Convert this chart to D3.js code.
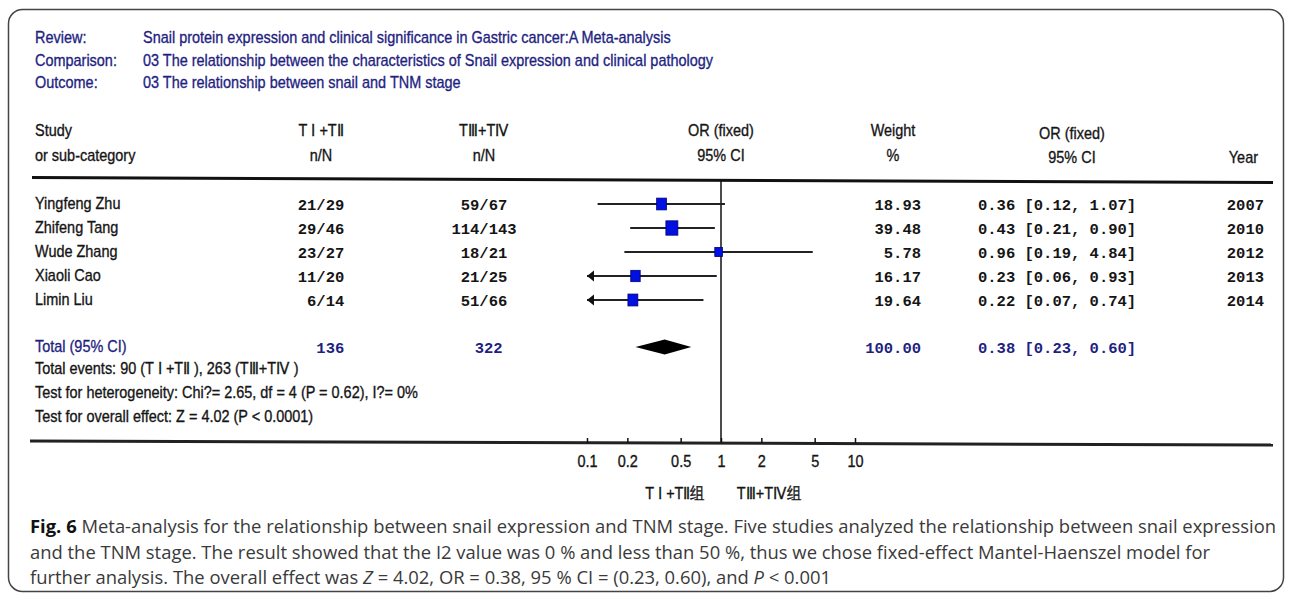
<!DOCTYPE html>
<html>
<head>
<meta charset="utf-8">
<script src="https://cdn.jsdelivr.net/npm/d3@7"></script>
<style>
  html, body { margin: 0; padding: 0; background: #fff; }
  svg { display: block; }
  .narrow { font-family: 'Liberation Sans', Arial, sans-serif; font-size: 17px; }
  .mono { font-family: 'Liberation Mono', 'Courier New', monospace; font-weight: bold; white-space: pre; font-size: 15.5px; }
  .cap { font-family: 'Open Sans', sans-serif; }
</style>
</head>
<body>
<svg id="chart" width="1292" height="601"></svg>
<script>
// ---- Data ----
const headerLabels = ["Review:", "Comparison:", "Outcome:"];
const headerValues = [
  "Snail protein expression and clinical significance in Gastric cancer:A Meta-analysis",
  "03 The relationship between the characteristics of Snail expression and clinical pathology",
  "03 The relationship between snail and TNM stage"
];
const studies   = ["Yingfeng Zhu", "Zhifeng Tang", "Wude Zhang", "Xiaoli Cao", "Limin Liu"];
const eventsLow = [21, 29, 23, 11, 6];
const totalLow  = [29, 46, 27, 20, 14];
const eventsHigh = [59, 114, 18, 21, 51];
const totalHigh  = [67, 143, 21, 25, 66];
const weights   = [18.93, 39.48, 5.78, 16.17, 19.64];
const oddsRatio = [0.36, 0.43, 0.96, 0.23, 0.22];
const ciLower   = [0.12, 0.21, 0.19, 0.06, 0.07];
const ciUpper   = [1.07, 0.90, 4.84, 0.93, 0.74];
const years     = [2007, 2010, 2012, 2013, 2014];
const pooled    = [0.38, 0.23, 0.60];   // OR, lower, upper
const pooledWeight = 100.00;
const pooledTotals = [136, 322];
const axisTicks = [0.1, 0.2, 0.5, 1, 2, 5, 10];
const groupLow  = "T Ⅰ +TⅡ";
const groupHigh = "TⅢ+TⅣ";
const footLines = [
  "Total events: 90 (" + groupLow + " ), 263 (" + groupHigh + " )",
  "Test for heterogeneity: Chi?= 2.65, df = 4 (P = 0.62), I?= 0%",
  "Test for overall effect: Z = 4.02 (P < 0.0001)"
];
const captionLines = [
  [["Fig. 6", "b"], [" Meta-analysis for the relationship between snail expression and TNM stage. Five studies analyzed the relationship between snail expression", ""]],
  [["and the TNM stage. The result showed that the I2 value was 0 % and less than 50 %, thus we chose fixed-effect Mantel-Haenszel model for", ""]],
  [["further analysis. The overall effect was ", ""], ["Z", "i"], [" = 4.02, OR = 0.38, 95 % CI = (0.23, 0.60), and ", ""], ["P", "i"], [" < 0.001", ""]]
];

// ---- Helpers ----
// narrow the glyphs of a selection of texts by a constant factor
function condense(sel, k) {
  sel.each(function () {
    const len = this.getComputedTextLength();
    d3.select(this).attr("textLength", len * k).attr("lengthAdjust", "spacingAndGlyphs");
  });
  return sel;
}
const NARROW = 0.85;

// ---- Setup ----
const svg = d3.select("#chart");
const navy = "#1f1f82";
const ink = "#151515";

// rounded frame
svg.append("rect")
  .attr("x", 8.5).attr("y", 9.5).attr("width", 1275).attr("height", 582)
  .attr("rx", 14).attr("fill", "none").attr("stroke", "#444").attr("stroke-width", 1.5);

// scales
const x = d3.scaleLog().domain([0.1, 10]).range([587, 855]);
const y = d3.scaleLinear().domain([0, studies.length - 1]).range([204, 300]);
const totalY = 347;
const size = d3.scaleSqrt().domain([0, 40]).range([5, 12]);

function narrowText(g, t, px, py, anchor, color) {
  return g.append("text").attr("class", "narrow")
    .attr("x", px).attr("y", py).attr("text-anchor", anchor || "start")
    .attr("fill", color || ink).attr("stroke", color || ink).attr("stroke-width", 0.35)
    .text(t);
}

// ---- Review header ----
const hdr = svg.append("g");
headerLabels.forEach((t, i) => {
  narrowText(hdr, t, 35, 43 + i * 22.5, "start", navy);
  narrowText(hdr, headerValues[i], 143, 43 + i * 22.5, "start", navy);
});

// ---- Column headings ----
const colLow = 321, colHigh = 484, colWeight = 921, colCI = 978, colYear = 1264;
const heads = [
  { t: "Study", x: 35, y: 136, a: "start" },
  { t: "or sub-category", x: 35, y: 161, a: "start" },
  { t: groupLow, x: colLow, y: 136, a: "middle" },
  { t: "n/N", x: colLow, y: 161, a: "middle" },
  { t: groupHigh, x: colHigh, y: 136, a: "middle" },
  { t: "n/N", x: colHigh, y: 161, a: "middle" },
  { t: "OR (fixed)", x: x(1), y: 136, a: "middle" },
  { t: "95% CI", x: x(1), y: 161, a: "middle" },
  { t: "Weight", x: 893, y: 136, a: "middle" },
  { t: "%", x: 893, y: 161, a: "middle" },
  { t: "OR (fixed)", x: 1072, y: 139, a: "middle" },
  { t: "95% CI", x: 1072, y: 163, a: "middle" },
  { t: "Year", x: 1258, y: 163, a: "end" }
];
const headG = svg.append("g");
heads.forEach(d => narrowText(headG, d.t, d.x, d.y, d.a));

// header rule
svg.append("line").attr("x1", 32).attr("y1", 177.5).attr("x2", 1273).attr("y2", 182.5)
  .attr("stroke", "#111").attr("stroke-width", 3);

// line of no effect
svg.append("line").attr("x1", x(1)).attr("x2", x(1)).attr("y1", 181).attr("y2", 443)
  .attr("stroke", "#111").attr("stroke-width", 1.5);

// ---- Study rows ----
const rows = svg.append("g");
studies.forEach((s, i) => {
  const yy = y(i);
  narrowText(rows, s, 35, yy + 5);
  const mono = (t, px, anchor) => rows.append("text").attr("class", "mono").attr("fill", ink)
    .attr("x", px).attr("y", yy + 6).attr("text-anchor", anchor).text(t);
  mono((eventsLow[i] + "/" + totalLow[i]).padStart(5, " "), colLow, "middle");
  mono((eventsHigh[i] + "/" + totalHigh[i]).padStart(5, " "), colHigh, "middle");
  mono(weights[i].toFixed(2), colWeight, "end");
  mono(oddsRatio[i].toFixed(2) + " [" + ciLower[i].toFixed(2) + ", " + ciUpper[i].toFixed(2) + "]", colCI, "start");
  mono(String(years[i]), colYear, "end");

  // confidence interval, clipped at the axis minimum with an arrow
  const lo = Math.max(ciLower[i], x.domain()[0]);
  const hi = Math.min(ciUpper[i], x.domain()[1]);
  rows.append("line").attr("x1", x(lo)).attr("x2", x(hi)).attr("y1", yy).attr("y2", yy)
    .attr("stroke", "#222").attr("stroke-width", 2);
  if (ciLower[i] < x.domain()[0]) {
    const ax = x(x.domain()[0]);
    rows.append("path")
      .attr("d", `M${ax},${yy} L${ax + 7},${yy - 5.5} L${ax + 7},${yy + 5.5} Z`)
      .attr("fill", "#111");
  }
  const sz = size(weights[i]);
  rows.append("rect")
    .attr("x", x(oddsRatio[i]) - sz / 2).attr("y", yy - sz * 0.6)
    .attr("width", sz).attr("height", sz * 1.2)
    .attr("fill", "#0010e0").attr("stroke", "#00007a").attr("stroke-width", 0.8);
});

// ---- Pooled row ----
const tot = svg.append("g");
narrowText(tot, "Total (95% CI)", 35, totalY + 5, "start", navy);
const monoT = (t, px, anchor) => tot.append("text").attr("class", "mono").attr("fill", navy)
  .attr("x", px).attr("y", totalY + 6).attr("text-anchor", anchor).text(t);
monoT(String(pooledTotals[0]).padStart(5, " "), colLow, "middle");
monoT(String(pooledTotals[1]).padStart(4, " "), colHigh, "middle");
monoT(pooledWeight.toFixed(2), colWeight, "end");
monoT(pooled[0].toFixed(2) + " [" + pooled[1].toFixed(2) + ", " + pooled[2].toFixed(2) + "]", colCI, "start");

svg.append("path")
  .attr("d", `M${x(pooled[1])},${totalY} L${x(pooled[0])},${totalY - 7.5} L${x(pooled[2])},${totalY} L${x(pooled[0])},${totalY + 7.5} Z`)
  .attr("fill", "#000");

// ---- Footnotes ----
const foot = svg.append("g");
footLines.forEach((t, i) => narrowText(foot, t, 35, 374 + i * 24));

// ---- Axis ----
svg.append("line").attr("x1", 30).attr("y1", 441).attr("x2", 1273).attr("y2", 445)
  .attr("stroke", "#222").attr("stroke-width", 3);
const axis = d3.axisBottom(x).tickValues(axisTicks).tickFormat(d3.format("~g"))
  .tickSizeInner(-5).tickSizeOuter(0).tickPadding(12);
const ag = svg.append("g").attr("transform", "translate(0,443)").call(axis)
  .attr("font-family", null).attr("font-size", null);
ag.select(".domain").remove();
ag.selectAll(".tick line").attr("stroke", "#111").attr("stroke-width", 1.5);
ag.selectAll(".tick text").attr("class", "narrow").attr("fill", ink)
  .attr("stroke", ink).attr("stroke-width", 0.35);

// group labels under the axis
const grpG = svg.append("g");
narrowText(grpG, groupLow + "组", 675, 499, "middle");
narrowText(grpG, groupHigh + "组", 769, 499, "middle");

// condense every narrow text uniformly
condense(svg.selectAll("text.narrow"), NARROW);

// ---- Caption ----
const cap = svg.append("g").attr("class", "cap").attr("font-size", 18).attr("fill", "#3a3a3a");
const capTexts = captionLines.map((parts, i) => {
  const t = cap.append("text").attr("x", 30).attr("y", 533 + i * 25.5);
  parts.forEach(([s, st]) => {
    const sp = t.append("tspan").text(s);
    if (st === "b") sp.attr("font-weight", "bold").attr("fill", "#111");
    if (st === "i") sp.attr("font-style", "italic");
  });
  return t;
});
// fit the first (full) line to the text block and squeeze the others equally
const capK = 1246 / capTexts[0].node().getComputedTextLength();
capTexts.forEach(t => {
  const len = t.node().getComputedTextLength();
  t.attr("textLength", len * capK).attr("lengthAdjust", "spacingAndGlyphs");
});
</script>
</body>
</html>
